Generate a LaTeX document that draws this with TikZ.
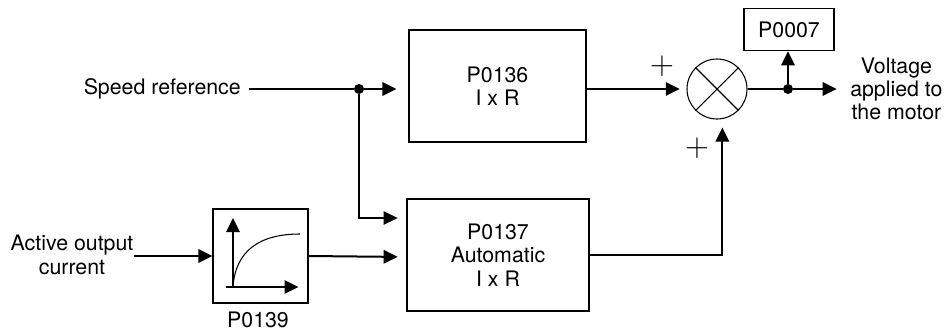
\documentclass[tikz,border=0pt]{standalone}
\usepackage{fontspec}
\setmainfont{TeX Gyre Heros}
\usetikzlibrary{arrows.meta}
\tikzset{>={Triangle[length=10.5pt,width=10pt]}}

\begin{document}
\begin{tikzpicture}[x=0.75pt, y=-0.75pt, font=\fontsize{16}{17.5}\selectfont]
\tikzset{blk/.style={draw, line width=0.8pt, inner sep=0pt, align=center},
         sig/.style={line width=1.5pt},
         thinsig/.style={line width=1pt},
         dotnode/.style={circle, fill, inner sep=0pt, minimum size=7.5pt},
         lbl/.style={align=center, inner sep=0pt},
         plusnode/.style={inner sep=0pt, font=\fontsize{24}{24}\selectfont}}
    \useasboundingbox (0,0) rectangle (950,333);

    % blocks
    \node[blk, minimum width=132.75pt, minimum height=84pt] (ixr) at (497.5,86) {P0136\\I x R};
    \node[blk, minimum width=136.5pt, minimum height=84pt] (autoixr) at (498,255) {P0137\\Automatic\\I x R};
    \node[blk, minimum width=71.25pt, minimum height=70.5pt] (filt) at (260.5,256) {};
    \node[lbl] (p139) at (258,320) {P0139};
    \node[blk, minimum width=67.5pt, minimum height=32pt] (p7) at (789,29.5) {P0007};

    % summing junction
    \node[draw, circle, line width=0.8pt, minimum size=45pt, inner sep=0pt] (sum) at (717,89) {};
    \draw[line width=0.8pt] (sum.north west) -- (sum.south east);
    \draw[line width=0.8pt] (sum.north east) -- (sum.south west);
    \node[plusnode] (plus1) at (662,66) {$+$};
    \node[plusnode] (plus2) at (697,148) {$+$};

    % labels
    \node[lbl, anchor=east, inner xsep=6pt] (speed) at (249,89) {Speed reference};
    \node[lbl] (cur) at (72,255) {Active output\\current};
    \node[lbl, anchor=west] (out) at (850,89) {Voltage\\applied to\\the motor};

    \node[dotnode] (dot1) at (359,89) {};
    \node[dotnode] (dot2) at (788,89) {};
    \coordinate (in1) at (407,218);
    \coordinate (in2) at (407,257);

    % curve inside the filter block
    \draw[line width=0.8pt] ([shift={(-27.5,31)}]filt.center) .. controls ([shift={(-25,-6)}]filt.center) and ([shift={(0,-22)}]filt.center) .. ([shift={(39.5,-22)}]filt.center);
    \draw[sig,->] ([shift={(-27.5,32)}]filt.center) -- ([shift={(-27.5,-38)}]filt.center);
    \draw[sig,->] ([shift={(-34.5,31)}]filt.center) -- ([shift={(38,31)}]filt.center);

    % signals
    \draw[sig] (speed.east) -- (dot1);
    \draw[sig,->,shorten >=9pt] (dot1) -- (ixr.west |- dot1);
    \draw[thinsig,->,shorten >=7pt] (dot1) |- (in1);
    \draw[sig,->] (cur.east |- filt) -- (filt.west);
    \draw[sig,->,shorten >=7pt] (filt.east) -- (in2);
    \draw[sig,->,shorten >=5pt] (ixr.east |- sum) -- (sum.west);
    \draw[sig,->,shorten >=6pt] (autoixr.east) -| ([xshift=4]sum.south);
    \draw[sig] (sum.east) -- (dot2);
    \draw[sig,->] (dot2) -- (dot2 |- p7.south);
    \draw[sig,->,shorten >=10pt] (dot2) -- (out.west);
\end{tikzpicture}
\end{document}
